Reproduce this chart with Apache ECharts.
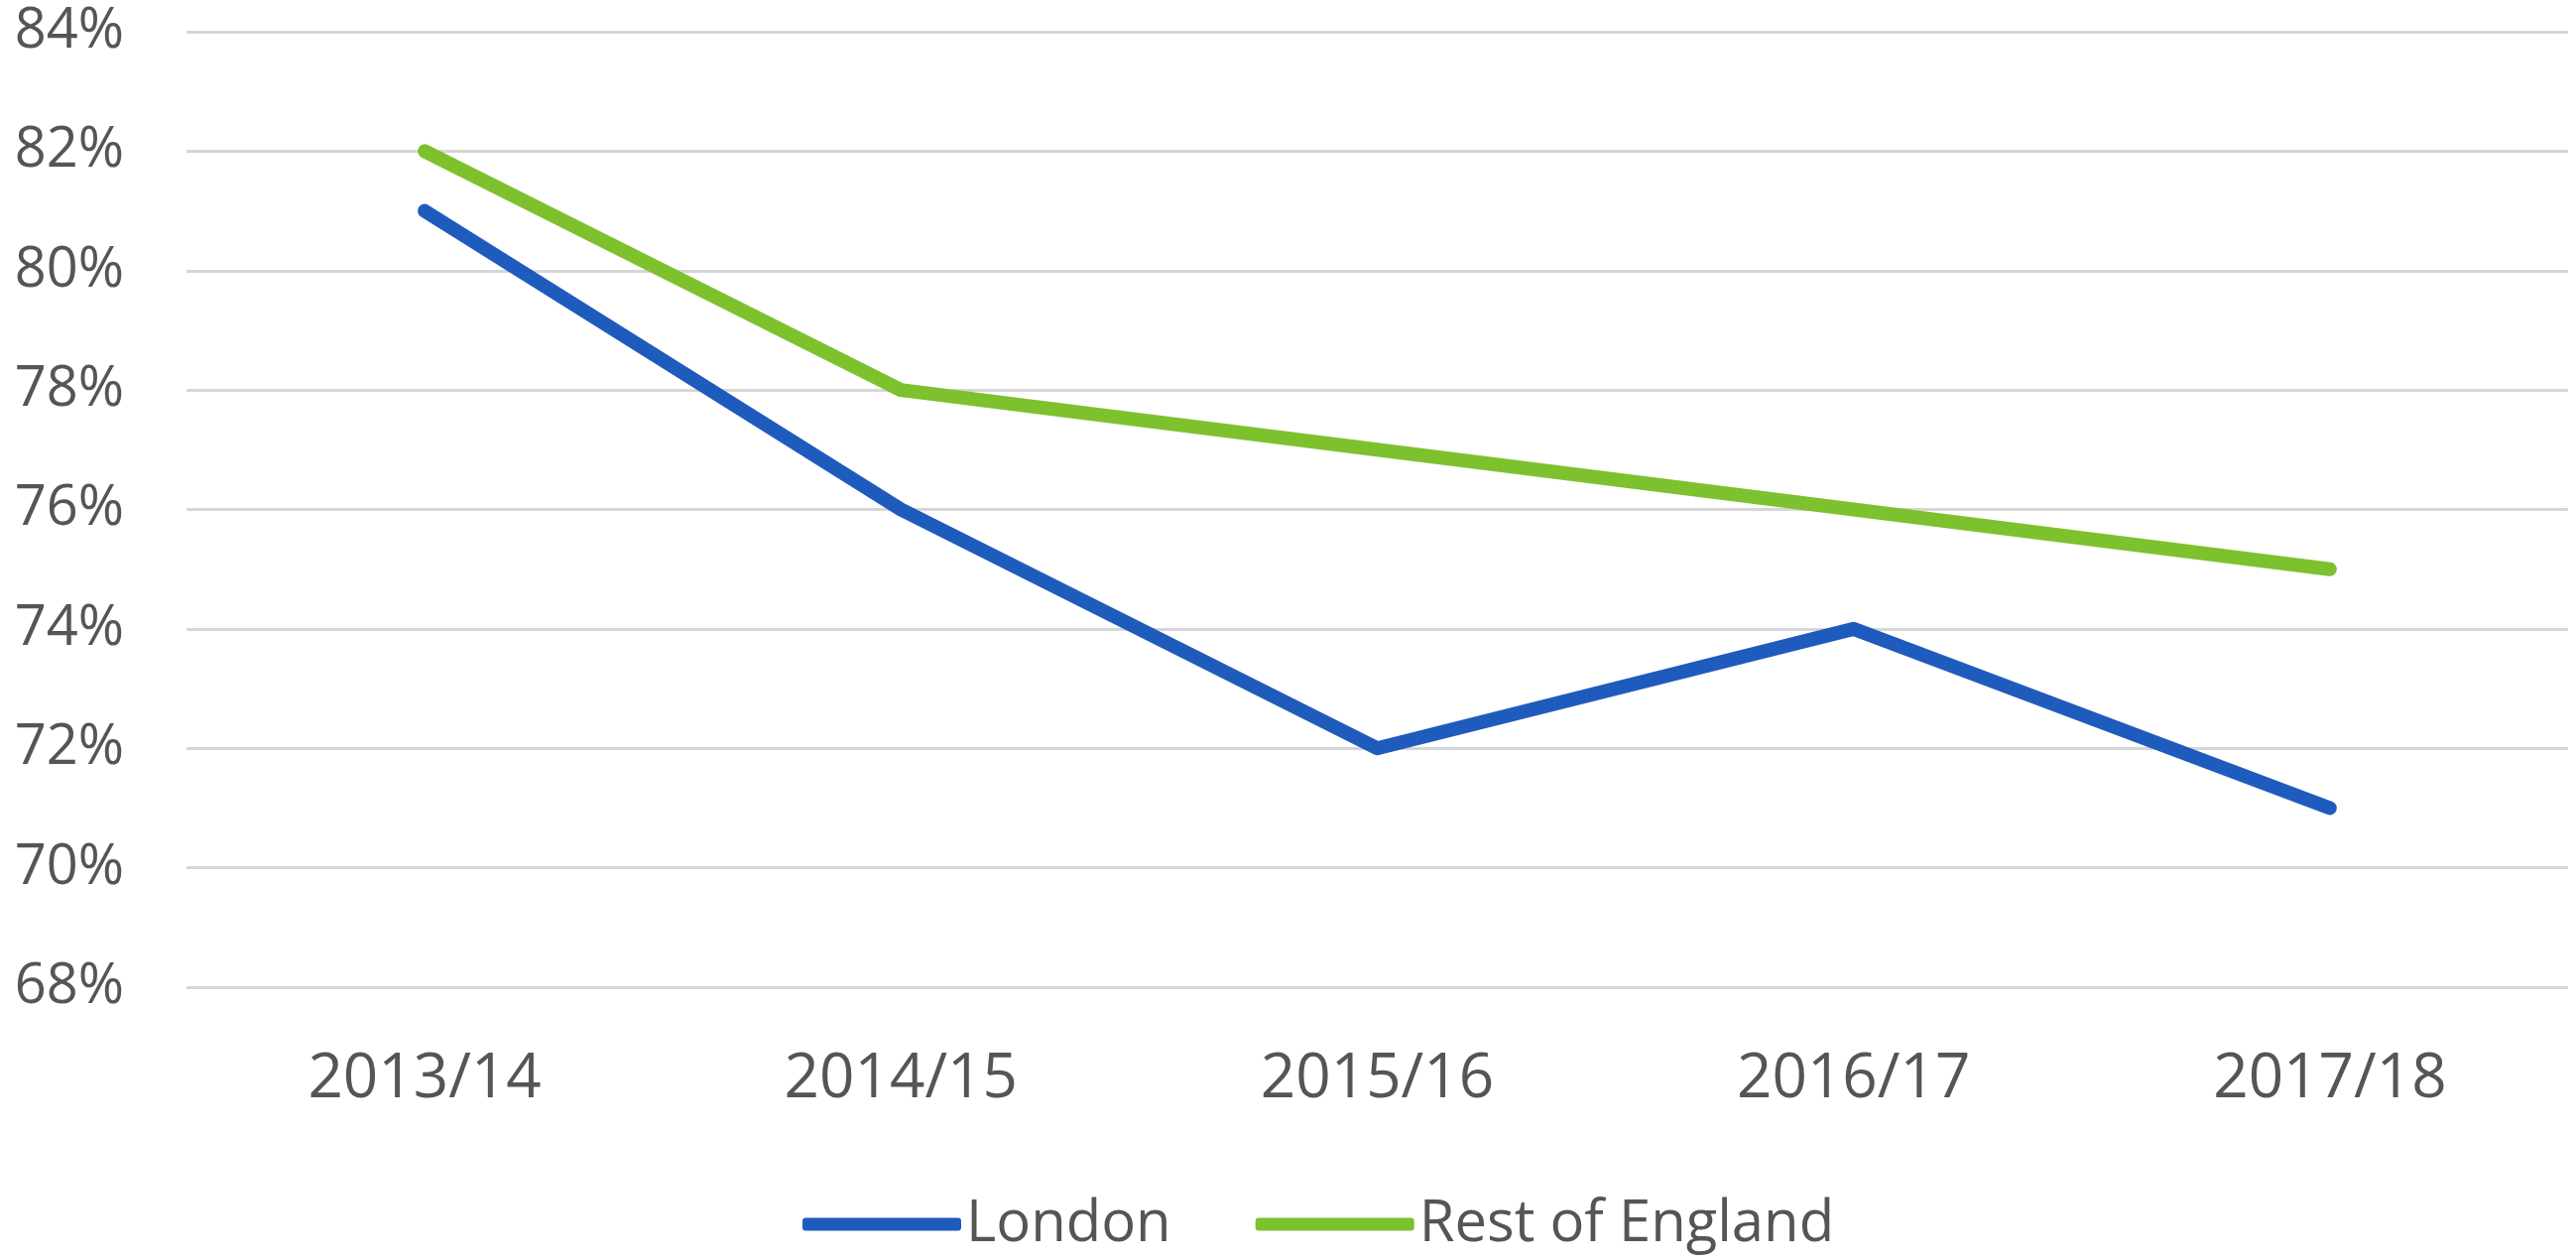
<!DOCTYPE html>
<html>
<head>
<meta charset="utf-8">
<title>London vs Rest of England</title>
<script src="https://cdn.jsdelivr.net/npm/echarts@6/dist/echarts.min.js"></script>
<style>
  html, body { margin: 0; padding: 0; background: #fff; }
  #chart { width: 2597px; height: 1269px; }
</style>
</head>
<body>
<div id="chart"></div>
<script>
// years on the x axis
const years = ['2013/14', '2014/15', '2015/16', '2016/17', '2017/18'];
// values in percent
const london = [81, 76, 72, 74, 71];
const restOfEngland = [82, 78, 77, 76, 75];

const textColor = '#555555';
const font = '"Open Sans", "Liberation Sans", sans-serif';

const chart = echarts.init(document.getElementById('chart'));

chart.setOption({
  animation: false,
  backgroundColor: '#fff',
  grid: {
    left: 188,
    right: 8,
    top: 32,
    bottom: 274
  },
  legend: {
    left: 804,
    top: 1200,
    itemWidth: 160,
    itemHeight: 13,
    itemGap: 85,
    icon: 'roundRect',
    textStyle: {
      color: textColor,
      fontSize: 58,
      fontFamily: font
    },
    data: ['London', 'Rest of England']
  },
  xAxis: {
    type: 'category',
    data: years,
    boundaryGap: true,
    axisLine: { show: false },
    axisTick: { show: false },
    axisLabel: {
      color: textColor,
      fontSize: 62,
      fontFamily: font,
      margin: 62
    }
  },
  yAxis: {
    type: 'value',
    min: 68,
    max: 84,
    interval: 2,
    axisLine: { show: false },
    axisTick: { show: false },
    axisLabel: {
      color: textColor,
      fontSize: 56,
      fontFamily: font,
      margin: 63,
      formatter: '{value}%'
    },
    splitLine: {
      lineStyle: { color: '#d6d6d6', width: 3 }
    }
  },
  series: [
    {
      name: 'London',
      type: 'line',
      data: london,
      symbol: 'none',
      color: '#1f5bbd',
      lineStyle: { width: 14, color: '#1f5bbd', cap: 'round', join: 'round' }
    },
    {
      name: 'Rest of England',
      type: 'line',
      data: restOfEngland,
      symbol: 'none',
      color: '#7dc12e',
      lineStyle: { width: 14, color: '#7dc12e', cap: 'round', join: 'round' }
    }
  ]
});
</script>
</body>
</html>
